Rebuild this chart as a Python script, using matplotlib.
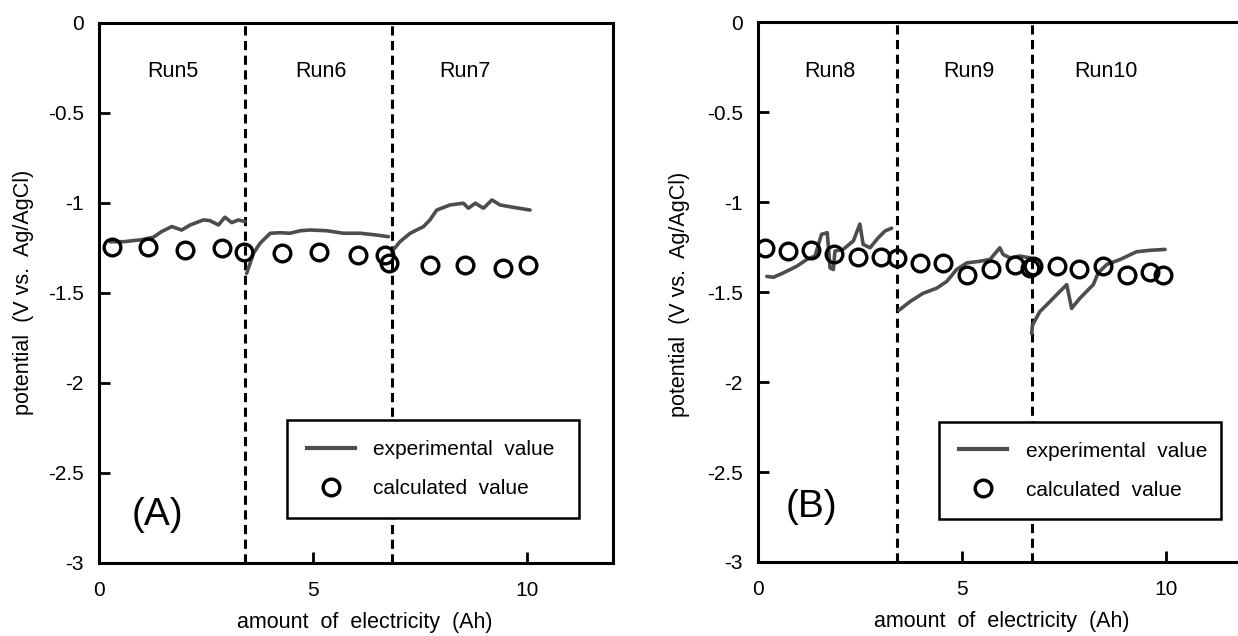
import matplotlib
matplotlib.use("Agg")
import matplotlib.pyplot as plt
from matplotlib.lines import Line2D

plt.rcParams["font.family"] = ["Liberation Sans", "DejaVu Sans"]

# ---------------- data ----------------
# Panel (A): Runs 5-7
run5_q = [0.26, 0.57, 0.96, 1.27, 1.46, 1.70, 1.93, 2.13, 2.44, 2.59, 2.79, 2.94, 3.10, 3.25, 3.41]
run5_e = [-1.217, -1.217, -1.207, -1.192, -1.161, -1.133, -1.152, -1.124, -1.096, -1.100, -1.124, -1.081, -1.111, -1.096, -1.105]
run6_q = [3.45, 3.61, 3.76, 4.00, 4.23, 4.46, 4.70, 4.93, 5.32, 5.71, 6.10, 6.49, 6.76]
run6_e = [-1.392, -1.281, -1.226, -1.170, -1.167, -1.170, -1.156, -1.152, -1.156, -1.170, -1.170, -1.180, -1.189]
run7_q = [6.84, 7.03, 7.27, 7.58, 7.73, 7.89, 8.20, 8.51, 8.63, 8.79, 8.98, 9.18, 9.37, 9.68, 10.07]
run7_e = [-1.272, -1.217, -1.170, -1.133, -1.096, -1.041, -1.013, -1.003, -1.031, -1.003, -1.031, -0.985, -1.013, -1.026, -1.041]

calcA_q = [0.30, 1.15, 2.01, 2.88, 3.39, 4.27, 5.15, 6.06, 6.68, 6.78, 7.73, 8.55, 9.43, 10.02]
calcA_e = [-1.244, -1.244, -1.263, -1.253, -1.272, -1.278, -1.272, -1.291, -1.291, -1.333, -1.346, -1.346, -1.365, -1.346]

boundsA = [3.41, 6.84]
runsA = ["Run5", "Run6", "Run7"]
runsA_q = [1.73, 5.19, 8.54]

# Panel (B): Runs 8-10
run8_q = [0.21, 0.37, 0.61, 0.94, 1.19, 1.39, 1.55, 1.69, 1.76, 1.84, 1.88, 2.08, 2.33, 2.49, 2.57, 2.74, 2.94, 3.11, 3.27]
run8_e = [-1.412, -1.417, -1.393, -1.356, -1.318, -1.299, -1.178, -1.169, -1.365, -1.374, -1.271, -1.262, -1.215, -1.121, -1.234, -1.253, -1.197, -1.159, -1.144]
run9_q = [3.45, 3.72, 4.04, 4.37, 4.62, 4.86, 5.11, 5.43, 5.68, 5.92, 6.00, 6.17, 6.41, 6.66]
run9_e = [-1.600, -1.552, -1.506, -1.478, -1.440, -1.374, -1.337, -1.328, -1.318, -1.253, -1.290, -1.309, -1.299, -1.309]
run10_q = [6.70, 6.72, 6.90, 7.15, 7.39, 7.56, 7.68, 7.88, 8.21, 8.33, 8.54, 8.87, 9.27, 9.60, 9.97]
run10_e = [-1.730, -1.683, -1.608, -1.552, -1.496, -1.458, -1.590, -1.534, -1.458, -1.393, -1.346, -1.318, -1.275, -1.267, -1.262]

calcB_q = [0.16, 0.74, 1.29, 1.86, 2.45, 3.02, 3.39, 3.96, 4.53, 5.12, 5.70, 6.29, 6.66, 6.73, 7.31, 7.87, 8.46, 9.03, 9.60, 9.91]
calcB_e = [-1.253, -1.271, -1.266, -1.290, -1.305, -1.305, -1.309, -1.339, -1.339, -1.402, -1.369, -1.350, -1.365, -1.356, -1.356, -1.369, -1.356, -1.402, -1.388, -1.402]

boundsB = [3.39, 6.71]
runsB = ["Run8", "Run9", "Run10"]
runsB_q = [1.75, 5.15, 8.52]

xticks = [0, 5, 10]
xtick_labels = ["0", "5", "10"]
yticks = [0, -0.5, -1, -1.5, -2, -2.5, -3]
ytick_labels = ["0", "-0.5", "-1", "-1.5", "-2", "-2.5", "-3"]
legend_labels = ["experimental  value", "calculated  value"]
xlabel = "amount  of  electricity  (Ah)"
ylabel = "potential  (V vs.  Ag/AgCl)"

EXP_COLOR = "#4d4d4d"


def draw_panel(ax, segments, calc_q, calc_e, bounds, runs, runs_q, tag, tag_xy,
               leg_box, xlab_xy, ylab_xy):
    for q, e in segments:
        ax.plot(q, e, color=EXP_COLOR, lw=2.6, solid_joinstyle="round",
                solid_capstyle="round", zorder=3)
    ax.plot(calc_q, calc_e, ls="none", marker="o", ms=12, mfc="none",
            mec="black", mew=2.4, zorder=4)
    for b in bounds:
        ax.axvline(b, color="black", lw=2.2, ls=(0, (3, 1.8)), zorder=2)
    for name, q in zip(runs, runs_q):
        ax.text(q, -0.27, name, ha="center", va="center", fontsize=15.5)
    ax.text(tag_xy[0], tag_xy[1], tag, transform=ax.transAxes, ha="center",
            va="center", fontsize=28)

    ax.set_xlim(0, 12)
    ax.set_ylim(-3, 0)
    ax.set_xticks(xticks)
    ax.set_xticklabels(xtick_labels)
    ax.set_yticks(yticks)
    ax.set_yticklabels(ytick_labels)
    ax.tick_params(axis="both", direction="in", length=8, width=2, labelsize=15)
    ax.tick_params(axis="x", pad=13)
    ax.tick_params(axis="y", pad=11)
    for sp in ax.spines.values():
        sp.set_linewidth(2.2)

    ax.set_xlabel(xlabel, fontsize=15.5)
    ax.xaxis.label.set_va("center")
    ax.xaxis.set_label_coords(*xlab_xy)
    ax.set_ylabel(ylabel, fontsize=15.5)
    ax.yaxis.label.set_va("center")
    ax.yaxis.set_label_coords(*ylab_xy)

    handles = [
        Line2D([], [], color=EXP_COLOR, lw=3),
        Line2D([], [], ls="none", marker="o", ms=12, mfc="none", mec="black", mew=2.4),
    ]
    leg = ax.legend(handles, legend_labels, loc="lower left", bbox_to_anchor=leg_box,
                    mode="expand", borderaxespad=0, fancybox=False, edgecolor="black",
                    framealpha=1, fontsize=15, borderpad=0.95, labelspacing=0.95,
                    handlelength=2.3, handletextpad=0.9)
    leg.get_frame().set_linewidth(1.8)


fig = plt.figure(figsize=(12.38, 6.36), dpi=100)
axA = fig.add_axes([0.0800, 0.1153, 0.4149, 0.8491])
axB = fig.add_axes([0.6125, 0.1164, 0.3955, 0.8483])

draw_panel(axA, [(run5_q, run5_e), (run6_q, run6_e), (run7_q, run7_e)],
           calcA_q, calcA_e, boundsA, runsA, runsA_q, "(A)", (0.113, 0.088),
           (0.366, 0.083, 0.569, 0.179), (0.518, -0.110), (-0.147, 0.5))
draw_panel(axB, [(run8_q, run8_e), (run9_q, run9_e), (run10_q, run10_e)],
           calcB_q, calcB_e, boundsB, runsB, runsB_q, "(B)", (0.108, 0.102),
           (0.370, 0.079, 0.576, 0.171), (0.497, -0.111), (-0.161, 0.496))

fig.savefig("out.png", dpi=100)
